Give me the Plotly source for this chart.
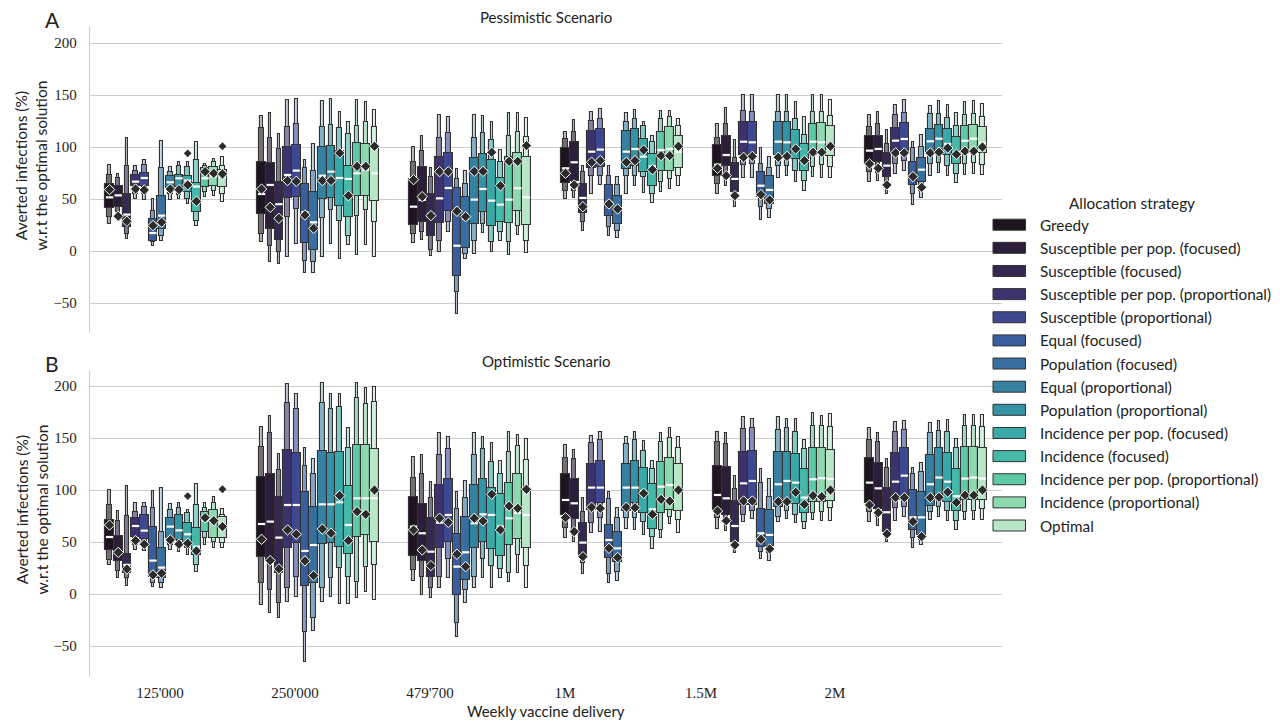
import numpy as np
import plotly.graph_objects as go

# ---------------------------------------------------------------- data
DELIVERIES = ["125'000", "250'000", "479'700", "1M", "1.5M", "2M"]

STRATEGIES = [
    "Greedy",
    "Susceptible per pop. (focused)",
    "Susceptible (focused)",
    "Susceptible per pop. (proportional)",
    "Susceptible (proportional)",
    "Equal (focused)",
    "Population (focused)",
    "Equal (proportional)",
    "Population (proportional)",
    "Incidence per pop. (focused)",
    "Incidence (focused)",
    "Incidence per pop. (proportional)",
    "Incidence (proportional)",
    "Optimal",
]

COLORS = [
    "#1d141f", "#2c1e38", "#352953", "#3b336d", "#3e4890", "#395ea0", "#386f9e",
    "#3681a2", "#3494a6", "#39a8a9", "#45b8a8", "#5ec9a6", "#8ed9b0", "#b8e6c6",
]

# Letter values per delivery (rows) and strategy (columns), pessimistic scenario
PESS_L3_LO = [
    [26.0, 35.6, 11.6, 50.0, 49.4, 5.1, 9.9, 49.4, 50.0, 45.2, 24.4, 51.6, 52.6, 47.5],
    [8.4, -10.9, -12.5, -6.1, 6.8, -21.1, -21.1, -6.1, 6.8, -7.7, 5.8, -3.8, 6.1, -6.1],
    [7.7, 10.9, -4.5, -0.6, 18.6, -60.6, -7.7, -2.9, 17.3, -1.3, 10.0, -3.8, 15.4, -1.9],
    [50.0, 51.0, 19.6, 54.8, 63.5, 14.8, 12.2, 54.8, 62.8, 55.5, 46.2, 56.4, 59.6, 62.8],
    [54.8, 62.2, 42.0, 69.9, 69.9, 30.1, 31.4, 69.9, 72.5, 66.1, 58.0, 70.9, 69.9, 69.9],
    [66.7, 67.7, 54.8, 74.1, 77.3, 44.3, 50.6, 71.8, 75.0, 72.0, 65.0, 73.0, 74.0, 73.0],
]
PESS_L2_LO = [
    [32.4, 37.8, 16.4, 54.8, 54.8, 8.3, 14.8, 54.8, 54.2, 50.0, 29.2, 57.1, 58.0, 54.8],
    [16.4, 5.2, -0.6, 32.4, 40.4, -9.3, -10.9, 31.4, 39.4, 29.2, 14.8, 34.0, 39.8, 27.6],
    [16.4, 18.6, 1.3, 10.0, 27.6, -39.7, -2.9, 10.0, 26.0, 8.4, 18.6, 8.4, 24.4, 10.0],
    [58.0, 58.0, 28.2, 72.4, 72.4, 22.8, 19.6, 72.4, 72.4, 70.9, 54.8, 66.1, 69.3, 72.4],
    [64.4, 69.3, 50.0, 82.7, 83.7, 42.0, 40.4, 81.4, 82.1, 77.3, 67.7, 80.5, 82.7, 80.5],
    [75.7, 74.7, 62.8, 83.7, 86.9, 54.8, 58.0, 83.7, 85.0, 82.0, 74.0, 84.0, 85.0, 83.0],
]
PESS_Q1 = [
    [41.0, 42.0, 22.8, 62.2, 62.2, 9.9, 21.2, 60.3, 61.2, 56.4, 37.8, 61.2, 62.8, 61.2],
    [35.6, 21.2, 10.6, 50.6, 51.6, 7.4, 1.3, 50.0, 50.6, 43.6, 32.4, 53.2, 52.6, 48.4],
    [25.3, 27.6, 14.1, 27.0, 38.8, -24.3, 2.6, 26.0, 37.8, 24.4, 28.2, 26.6, 38.2, 25.3],
    [65.4, 67.7, 36.2, 79.5, 80.5, 33.4, 26.0, 78.9, 81.4, 76.3, 62.2, 77.3, 77.3, 79.8],
    [72.5, 81.4, 56.4, 92.3, 93.3, 51.6, 45.2, 92.3, 92.3, 88.5, 77.3, 92.3, 93.3, 91.0],
    [83.7, 85.3, 70.9, 93.3, 94.9, 63.5, 66.1, 93.3, 95.0, 92.0, 84.0, 94.0, 95.0, 94.0],
]
PESS_MEDIAN = [
    [51.6, 53.5, 35.0, 66.7, 70.2, 17.3, 34.0, 66.1, 69.9, 67.7, 62.0, 69.9, 71.8, 70.9],
    [54.8, 63.5, 45.0, 73.1, 77.3, 37.2, 27.6, 72.4, 76.3, 70.2, 69.3, 74.7, 78.2, 74.7],
    [42.6, 49.1, 35.6, 50.6, 60.6, 5.1, 30.8, 49.4, 59.6, 48.4, 44.6, 49.4, 60.3, 51.6],
    [79.5, 85.3, 51.0, 95.5, 97.5, 46.8, 41.0, 95.5, 98.1, 90.7, 81.4, 97.1, 98.1, 95.5],
    [83.0, 92.3, 69.3, 105.1, 104.5, 62.8, 58.7, 105.1, 104.5, 99.7, 86.9, 105.1, 104.5, 101.3],
    [96.5, 98.1, 82.1, 106.1, 107.7, 72.5, 78.2, 105.5, 108.0, 103.0, 95.0, 106.0, 108.0, 104.0],
]
PESS_Q3 = [
    [64.4, 62.2, 54.8, 73.1, 74.7, 30.8, 53.2, 71.8, 73.4, 72.4, 65.1, 79.5, 80.5, 77.9],
    [85.3, 84.6, 66.1, 100.3, 101.9, 64.5, 57.1, 99.7, 101.3, 96.5, 82.1, 103.5, 102.9, 101.3],
    [69.3, 81.1, 54.8, 90.1, 93.9, 60.3, 51.6, 89.1, 93.3, 87.5, 69.9, 90.7, 94.3, 90.7],
    [99.0, 104.5, 64.5, 115.7, 117.3, 63.5, 53.2, 115.1, 117.3, 107.7, 93.3, 114.8, 118.9, 110.9],
    [101.9, 110.3, 84.3, 123.7, 123.7, 75.7, 72.5, 123.7, 123.7, 116.4, 102.9, 122.1, 123.1, 119.9],
    [110.3, 110.9, 94.3, 118.0, 122.8, 85.3, 89.1, 117.3, 121.0, 117.0, 110.0, 120.0, 121.0, 119.0],
]
PESS_L2_HI = [
    [73.4, 70.2, 81.4, 77.3, 82.7, 38.8, 79.5, 76.3, 81.4, 80.5, 87.5, 82.0, 85.3, 82.1],
    [118.0, 108.4, 98.1, 119.6, 122.1, 79.5, 76.6, 118.9, 121.5, 118.0, 112.5, 120.5, 123.7, 118.9],
    [85.3, 95.9, 70.9, 108.4, 113.5, 69.3, 64.4, 108.4, 113.5, 107.1, 85.9, 110.3, 114.1, 109.3],
    [107.7, 114.1, 76.3, 125.3, 127.0, 72.4, 63.5, 124.4, 127.0, 120.5, 104.5, 127.0, 128.6, 120.5],
    [108.4, 122.1, 89.4, 134.9, 134.0, 83.7, 79.5, 134.0, 134.0, 127.0, 111.6, 134.0, 134.0, 130.1],
    [118.9, 122.1, 102.9, 130.8, 132.4, 98.7, 99.7, 131.7, 132.0, 128.0, 120.0, 131.0, 132.0, 129.0],
]
PESS_L3_HI = [
    [83.0, 74.1, 108.4, 81.4, 87.5, 50.0, 105.5, 80.5, 85.9, 85.3, 104.5, 83.7, 88.5, 90.1],
    [129.5, 132.4, 112.5, 145.2, 146.2, 87.8, 102.9, 144.6, 146.2, 133.3, 124.4, 145.5, 143.6, 135.6],
    [99.7, 110.3, 79.5, 131.1, 129.2, 78.9, 77.3, 130.8, 129.5, 123.7, 97.1, 132.4, 132.4, 127.9],
    [114.1, 126.0, 81.4, 133.4, 136.6, 82.1, 71.5, 132.4, 135.9, 124.4, 110.3, 135.0, 135.0, 127.0],
    [122.1, 137.2, 106.7, 150.3, 150.3, 98.7, 90.7, 150.0, 150.3, 143.0, 129.2, 150.0, 150.3, 145.5],
    [131.1, 134.0, 116.4, 140.7, 145.2, 104.5, 111.6, 139.1, 144.0, 140.0, 133.0, 143.0, 144.0, 141.0],
]
PESS_MEAN = [
    [59.0, 33.4, 28.6, 59.6, 58.7, 24.4, 27.6, 59.6, 59.0, 63.5, 47.8, 76.3, 74.7, 74.1],
    [59.6, 42.0, 31.4, 67.7, 67.0, 34.6, 21.8, 67.7, 67.7, 94.2, 53.2, 81.4, 81.4, 100.7],
    [68.6, 52.3, 34.0, 76.3, 76.3, 38.2, 33.0, 76.6, 76.6, 94.9, 62.8, 86.2, 86.2, 101.3],
    [74.7, 63.5, 42.6, 85.3, 86.9, 45.2, 40.4, 85.3, 86.9, 97.1, 78.2, 91.7, 91.7, 100.7],
    [79.5, 72.5, 53.2, 90.1, 91.0, 54.2, 49.1, 90.1, 91.0, 98.1, 86.9, 94.9, 94.9, 100.7],
    [83.7, 79.5, 63.5, 94.3, 94.3, 71.5, 61.2, 94.3, 95.0, 99.0, 93.0, 96.0, 96.0, 100.0],
]
# (delivery index, strategy index, value)
PESS_OUTLIERS = [(0, 9, 93.9), (0, 13, 100.7)]

# Letter values, optimistic scenario
OPT_L3_LO = [
    [27.9, 15.0, 8.0, 42.4, 41.4, 6.4, 6.1, 42.4, 40.7, 37.5, 21.5, 47.1, 44.6, 44.0],
    [-10.5, -18.6, -23.4, -8.0, -2.5, -65.0, -35.5, -8.0, -2.5, -9.9, -9.9, -4.1, 2.3, -5.7],
    [12.5, -0.9, -4.1, 5.5, 15.7, -41.0, -8.3, 5.5, 15.1, 6.1, 15.1, 11.2, 19.9, 5.5],
    [54.2, 50.4, 19.3, 58.4, 60.0, 10.3, 12.9, 62.5, 61.6, 56.8, 43.3, 53.6, 67.0, 58.4],
    [62.5, 60.9, 39.1, 69.6, 72.1, 33.4, 32.1, 69.6, 72.1, 68.0, 62.5, 71.2, 70.2, 70.2],
    [69.6, 65.7, 50.4, 70.5, 74.4, 44.6, 47.1, 71.2, 74.0, 70.0, 62.0, 71.0, 71.0, 71.0],
]
OPT_L2_LO = [
    [32.7, 22.0, 15.0, 47.1, 45.5, 10.3, 10.3, 47.1, 45.5, 44.0, 27.9, 53.6, 50.4, 48.7],
    [10.3, 3.9, -8.9, 5.5, 16.7, -36.2, -22.7, 5.5, 15.1, 25.4, 16.7, 11.9, 26.3, 27.9],
    [23.1, 16.7, 5.5, 16.7, 33.7, -28.2, 3.9, 16.7, 33.7, 27.3, 24.1, 19.9, 37.5, 27.3],
    [63.8, 56.8, 29.5, 68.0, 72.8, 18.9, 21.5, 73.4, 73.4, 69.6, 55.2, 61.6, 74.4, 71.2],
    [72.8, 68.0, 43.9, 76.0, 79.8, 40.7, 39.1, 74.4, 79.8, 76.0, 69.6, 77.6, 79.2, 82.4],
    [79.2, 74.4, 54.5, 82.4, 84.0, 53.6, 52.0, 79.2, 84.0, 80.0, 70.0, 79.0, 80.0, 82.0],
]
OPT_Q1 = [
    [42.3, 32.0, 20.0, 55.2, 52.9, 16.7, 15.1, 53.6, 52.0, 48.7, 37.5, 60.0, 53.6, 53.6],
    [35.9, 32.7, 19.9, 44.6, 48.7, 8.0, 10.3, 47.8, 48.7, 45.5, 38.2, 54.5, 56.8, 49.7],
    [36.9, 32.1, 16.1, 44.6, 50.4, -0.9, 13.5, 44.0, 50.4, 43.3, 36.6, 47.1, 52.6, 44.6],
    [76.0, 72.1, 37.5, 80.8, 87.2, 34.3, 30.5, 79.8, 87.2, 77.6, 62.5, 78.0, 80.8, 79.8],
    [80.8, 76.0, 50.4, 85.6, 85.6, 45.5, 46.5, 84.0, 86.2, 86.2, 77.6, 88.2, 88.8, 89.4],
    [87.2, 82.0, 60.0, 90.0, 92.0, 61.6, 56.8, 85.0, 92.0, 88.0, 80.0, 90.0, 90.0, 90.0],
]
OPT_MEDIAN = [
    [54.8, 40.0, 28.0, 65.4, 60.9, 32.1, 25.4, 64.8, 61.2, 57.4, 45.5, 70.5, 69.6, 64.8],
    [67.3, 69.6, 54.2, 85.6, 85.6, 41.4, 47.1, 86.2, 86.2, 88.2, 66.4, 92.0, 92.0, 92.0],
    [64.8, 58.4, 40.7, 68.6, 76.0, 26.3, 40.1, 68.0, 76.6, 76.0, 65.0, 72.8, 78.0, 76.0],
    [90.4, 87.2, 49.4, 102.3, 102.3, 51.9, 43.9, 102.3, 102.3, 99.0, 81.4, 103.2, 104.8, 101.0],
    [95.2, 92.0, 65.4, 106.4, 108.7, 58.4, 56.8, 105.5, 108.7, 107.1, 92.7, 110.3, 111.3, 110.6],
    [107.1, 101.6, 78.6, 108.0, 113.8, 73.7, 73.7, 105.5, 112.0, 108.0, 94.0, 111.0, 112.0, 111.0],
]
OPT_Q3 = [
    [71.2, 56.0, 38.0, 72.8, 76.0, 64.8, 43.9, 72.8, 76.0, 68.0, 63.2, 79.2, 80.8, 74.4],
    [112.2, 115.4, 93.0, 138.5, 135.9, 97.8, 84.0, 137.5, 135.9, 136.2, 104.2, 143.3, 143.3, 139.4],
    [93.0, 86.6, 72.8, 104.8, 110.3, 57.4, 73.7, 104.8, 110.3, 101.6, 96.2, 106.4, 115.1, 100.0],
    [115.4, 110.6, 68.6, 124.7, 127.9, 66.4, 59.3, 124.7, 127.9, 121.5, 105.5, 126.6, 131.1, 124.7],
    [123.4, 122.5, 89.4, 136.9, 137.5, 81.8, 80.8, 136.9, 136.9, 134.3, 120.2, 140.7, 140.1, 138.5],
    [130.5, 125.7, 102.3, 135.3, 140.1, 100.0, 98.4, 133.7, 140.0, 136.0, 120.0, 141.0, 141.0, 140.0],
]
OPT_L2_HI = [
    [85.6, 70.0, 75.0, 79.2, 84.0, 82.4, 60.0, 80.8, 82.4, 77.6, 85.6, 82.4, 87.2, 76.0],
    [141.7, 154.5, 119.3, 183.4, 177.6, 123.4, 115.4, 183.4, 177.9, 180.2, 140.1, 188.2, 182.4, 185.0],
    [111.3, 115.1, 92.7, 133.7, 139.4, 81.4, 92.0, 133.7, 139.4, 127.3, 115.4, 136.2, 142.3, 128.9],
    [131.1, 129.8, 79.2, 144.9, 148.1, 91.4, 73.4, 143.9, 148.1, 137.5, 119.9, 146.5, 150.3, 140.7],
    [146.5, 143.9, 101.0, 158.7, 159.3, 107.1, 93.6, 157.7, 159.3, 156.1, 139.4, 161.9, 161.9, 160.9],
    [148.1, 146.5, 120.9, 155.5, 157.7, 115.1, 117.7, 154.5, 157.0, 156.0, 140.0, 162.0, 162.0, 161.0],
]
OPT_L3_HI = [
    [100.0, 80.0, 104.0, 87.2, 87.8, 99.4, 102.3, 86.2, 87.8, 80.8, 105.5, 87.8, 93.6, 81.8],
    [160.9, 171.5, 134.6, 202.0, 192.3, 140.7, 129.5, 202.6, 192.3, 192.0, 159.3, 202.6, 198.4, 198.7],
    [132.1, 133.7, 107.4, 155.1, 151.3, 97.8, 108.7, 154.5, 151.3, 145.5, 128.2, 156.1, 152.9, 148.7],
    [143.3, 138.5, 92.7, 152.0, 155.5, 97.8, 83.0, 151.3, 155.5, 147.1, 127.9, 154.5, 159.3, 151.3],
    [155.5, 154.5, 113.8, 170.5, 168.0, 119.9, 110.3, 170.5, 168.0, 168.0, 148.1, 174.4, 171.5, 172.8],
    [160.0, 155.2, 129.5, 165.7, 166.4, 121.5, 125.7, 164.8, 166.0, 167.0, 149.0, 172.0, 172.0, 172.0],
]
OPT_MEAN = [
    [66.3, 40.0, 24.0, 51.3, 47.8, 18.3, 19.9, 52.0, 47.8, 48.7, 41.4, 73.4, 70.5, 64.8],
    [52.6, 32.1, 24.1, 61.6, 57.4, 31.8, 17.7, 62.5, 58.4, 94.6, 51.3, 79.2, 76.6, 100.0],
    [61.6, 42.3, 27.3, 72.8, 68.9, 38.2, 26.3, 72.8, 70.2, 95.9, 61.6, 84.6, 82.4, 100.7],
    [73.4, 60.0, 35.9, 83.4, 82.4, 43.9, 35.0, 83.4, 83.0, 96.8, 76.6, 91.0, 89.4, 100.0],
    [79.8, 70.5, 47.1, 89.4, 89.4, 52.6, 43.3, 88.8, 88.8, 97.8, 86.2, 94.6, 93.6, 100.0],
    [85.6, 78.2, 57.7, 92.7, 92.7, 69.6, 55.2, 92.7, 93.0, 98.0, 88.0, 95.0, 95.0, 100.0],
]
OPT_OUTLIERS = [(0, 9, 94.2), (0, 13, 100.7)]

# ---------------------------------------------------------------- layout constants
W, H = 1280, 723
PLOT_LEFT, PLOT_RIGHT = 90, 1002
PX_PER_UNIT = 52 / 50
GROUP_WIDTH = 0.8
N_STRAT = len(STRATEGIES)
SLOT = GROUP_WIDTH / N_STRAT
EDGE = "#333333"
SANS = "Lato"
SERIF = "Liberation Serif"

PANELS = [
    dict(title="Pessimistic Scenario", letter="A", top=26, bottom=333, zero=251,
         stats=[PESS_L3_LO, PESS_L2_LO, PESS_Q1, PESS_MEDIAN, PESS_Q3, PESS_L2_HI, PESS_L3_HI, PESS_MEAN],
         outliers=PESS_OUTLIERS),
    dict(title="Optimistic Scenario", letter="B", top=370, bottom=677, zero=594,
         stats=[OPT_L3_LO, OPT_L2_LO, OPT_Q1, OPT_MEDIAN, OPT_Q3, OPT_L2_HI, OPT_L3_HI, OPT_MEAN],
         outliers=OPT_OUTLIERS),
]


def blend(hex_color, amount):
    """Mix a colour with white."""
    h = hex_color.lstrip("#")
    rgb = [int(h[i:i + 2], 16) for i in (0, 2, 4)]
    mixed = [round(c + (255 - c) * amount) for c in rgb]
    return "#%02x%02x%02x" % tuple(mixed)


# box centres: delivery g, strategy s
positions = (np.arange(len(DELIVERIES))[:, None] - GROUP_WIDTH / 2
             + (np.arange(N_STRAT)[None, :] + 0.5) * SLOT)

fig = go.Figure()

for p, panel in enumerate(PANELS):
    xa = "x" if p == 0 else "x2"
    ya = "y" if p == 0 else "y2"
    l3lo, l2lo, q1, med, q3, l2hi, l3hi, mean = [np.array(a, dtype=float) for a in panel["stats"]]
    levels = [  # outermost first so the main box sits on top
        (l3lo, l3hi, 0.28, 0.72),
        (l2lo, l2hi, 0.52, 0.38),
        (q1, q3, 1.0, 0.0),
    ]
    for lo, hi, frac, lighten in levels:
        for s in range(N_STRAT):
            fig.add_trace(go.Bar(
                x=positions[:, s], base=lo[:, s], y=hi[:, s] - lo[:, s],
                width=SLOT * frac,
                marker=dict(color=blend(COLORS[s], lighten), line=dict(color=EDGE, width=1.1)),
                xaxis=xa, yaxis=ya, showlegend=False, hoverinfo="skip",
            ))
    # medians
    mx, my = [], []
    half = SLOT * 0.42
    for g in range(len(DELIVERIES)):
        for s in range(N_STRAT):
            c = positions[g, s]
            mx += [c - half, c + half, None]
            my += [med[g, s], med[g, s], None]
    fig.add_trace(go.Scatter(x=mx, y=my, mode="lines", line=dict(color="white", width=2.2),
                             xaxis=xa, yaxis=ya, showlegend=False, hoverinfo="skip"))
    # means
    fig.add_trace(go.Scatter(
        x=positions.ravel(), y=mean.ravel(), mode="markers",
        marker=dict(symbol="diamond", size=8, color="#2b2b2b", line=dict(color="white", width=1)),
        xaxis=xa, yaxis=ya, showlegend=False, hoverinfo="skip"))
    # outliers
    if panel["outliers"]:
        ox = [positions[g, s] for g, s, _ in panel["outliers"]]
        oy = [v for _, _, v in panel["outliers"]]
        fig.add_trace(go.Scatter(
            x=ox, y=oy, mode="markers",
            marker=dict(symbol="diamond", size=6, color="#2b2b2b"),
            xaxis=xa, yaxis=ya, showlegend=False, hoverinfo="skip"))

x_domain = [PLOT_LEFT / W, PLOT_RIGHT / W]
axis_common = dict(range=[-0.5, 5.5], domain=x_domain, showgrid=False, zeroline=False,
                   showline=False, ticks="", automargin=False)

tick_px = np.array([160, 295, 430, 565, 701, 835])
tick_vals = (tick_px - PLOT_LEFT) / ((PLOT_RIGHT - PLOT_LEFT) / 6) - 0.5

layout = dict(
    width=W, height=H, margin=dict(l=0, r=0, t=0, b=0), autosize=False,
    plot_bgcolor="white", paper_bgcolor="white", barmode="overlay", bargap=0,
    showlegend=False,
    xaxis=dict(axis_common, anchor="y", showticklabels=False),
    xaxis2=dict(axis_common, anchor="y2", tickvals=tick_vals, ticktext=DELIVERIES,
                tickfont=dict(family=SERIF, size=15, color="#222222"), ticklabelstandoff=5),
)
for p, panel in enumerate(PANELS):
    lo_v = (panel["zero"] - panel["bottom"]) / PX_PER_UNIT
    hi_v = (panel["zero"] - panel["top"]) / PX_PER_UNIT
    layout["yaxis" if p == 0 else "yaxis2"] = dict(
        domain=[1 - panel["bottom"] / H, 1 - panel["top"] / H],
        range=[lo_v, hi_v], anchor="x" if p == 0 else "x2",
        tickvals=[-50, 0, 50, 100, 150, 200],
        ticktext=["\u221250", "0", "50", "100", "150", "200"],
        tickfont=dict(family=SERIF, size=15, color="#222222"),
        showgrid=True, gridcolor="#cccccc", gridwidth=1, zeroline=False,
        showline=True, linecolor="#cccccc", linewidth=1.3, ticks="", ticklabelstandoff=9,
        automargin=False,
    )
fig.update_layout(**layout)

annotations = []
for panel in PANELS:
    mid = (panel["top"] + panel["bottom"]) / 2
    annotations.append(dict(text=panel["title"], x=(PLOT_LEFT + PLOT_RIGHT) / 2 / W,
                            y=1 - (panel["top"] - 9) / H, xref="paper", yref="paper",
                            showarrow=False, font=dict(family=SANS, size=15, color="#222222"),
                            xanchor="center", yanchor="middle"))
    annotations.append(dict(text=panel["letter"], x=52 / W, y=1 - (panel["top"] - 7) / H,
                            xref="paper", yref="paper", showarrow=False,
                            font=dict(family=SANS, size=21, color="#222222"),
                            xanchor="center", yanchor="middle"))
    annotations.append(dict(text="Averted infections (%)<br>w.r.t the optimal solution",
                            x=31 / W, y=1 - (mid - 14) / H, xref="paper", yref="paper",
                            showarrow=False, textangle=-90,
                            font=dict(family=SANS, size=15.5, color="#222222"),
                            xanchor="center", yanchor="middle"))
annotations.append(dict(text="Weekly vaccine delivery", x=(PLOT_LEFT + PLOT_RIGHT) / 2 / W,
                        y=1 - 711 / H, xref="paper", yref="paper", showarrow=False,
                        font=dict(family=SANS, size=15, color="#222222"),
                        xanchor="center", yanchor="middle"))

# legend drawn as swatches + labels
LEG_TOP, LEG_STEP = 224.7, 23.14
annotations.append(dict(text="Allocation strategy", x=1131.5 / W, y=1 - 203 / H,
                        xref="paper", yref="paper", showarrow=False,
                        font=dict(family=SANS, size=15.3, color="#222222"),
                        xanchor="center", yanchor="middle"))
shapes = []
for i, (name, col) in enumerate(zip(STRATEGIES, COLORS)):
    cy = LEG_TOP + i * LEG_STEP
    shapes.append(dict(type="rect", xref="paper", yref="paper",
                       x0=993 / W, x1=1025.5 / W, y0=1 - (cy - 5.5) / H, y1=1 - (cy + 5.5) / H,
                       fillcolor=col, line=dict(color=EDGE, width=1)))
    annotations.append(dict(text=name, x=1037.5 / W, y=1 - cy / H, xref="paper", yref="paper",
                            showarrow=False, font=dict(family=SANS, size=15.3, color="#222222"),
                            xanchor="left", yanchor="middle"))

fig.update_layout(annotations=annotations, shapes=shapes)
fig.write_html("out.html")
